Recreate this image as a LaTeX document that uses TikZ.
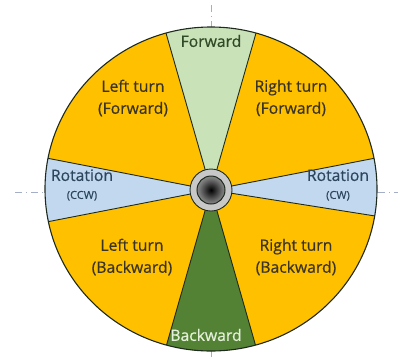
\documentclass[tikz,border=0pt]{standalone}
\usepackage{fontspec}
\setmainfont{Open Sans}[FakeBold=0.5]
\usetikzlibrary{positioning,shadings}
\definecolor{turnorange}{HTML}{FFC000}
\definecolor{fwdgreen}{HTML}{C9E2B8}
\definecolor{bwdgreen}{HTML}{548235}
\definecolor{rotblue}{HTML}{C2D8EE}
\definecolor{rimdark}{HTML}{1E2A1E}
\definecolor{hubgray}{HTML}{C8C8C8}
\definecolor{axisgray}{HTML}{A4AEC8}
\definecolor{turntext}{HTML}{3A3426}
\definecolor{fwdtext}{HTML}{2F4A26}
\definecolor{rottext}{HTML}{2C465E}
\definecolor{bwdtext}{HTML}{E4F0DA}
\newcommand{\rotsmall}{\fontsize{11}{13}\selectfont}
\pgfdeclareradialshading{hubshade}{\pgfpoint{0bp}{0bp}}{%
  color(0bp)=(black); color(20bp)=(black!55); color(45bp)=(black!12); color(50bp)=(black!10)}

\begin{document}
\begin{tikzpicture}[x=1pt, y=1pt,
  sector/.style={draw=rimdark, line width=0.9pt},
  rim/.style={draw=rimdark, line width=1.1pt},
  seglabel/.style={font=\fontsize{15.7}{22}\selectfont, align=center, text=turntext},
  crossline/.style={draw=axisgray, line width=0.6pt, dash pattern=on 7pt off 4pt on 1pt off 4pt},
]
  \useasboundingbox (-211,-170) rectangle (187,190);

  % crosshair ---------------------------------------------------------------
  \coordinate (ctop a) at (0,185);   \coordinate (ctop b) at (0,163);
  \coordinate (cbot a) at (0,-160);  \coordinate (cbot b) at (0,-170);
  \coordinate (cleft a) at (-196,-2); \coordinate (cleft b) at (-166,-2);
  \coordinate (cright a) at (167,-2); \coordinate (cright b) at (187,-2);
  \draw[crossline] (ctop a) -- (ctop b);
  \draw[crossline] (cbot a) -- (cbot b);
  \draw[crossline] (cleft a) -- (cleft b);
  \draw[crossline] (cright a) -- (cright b);

  % wheel sectors -----------------------------------------------------------
  \begin{scope}
    \clip (0,1) ellipse [x radius=166, y radius=162];
    \fill[turnorange] (-200,-200) rectangle (200,200);
    \fill[fwdgreen] (0,0) -- (74:250) -- (106:250) -- cycle;
    \fill[bwdgreen] (0,0) -- (254:250) -- (286:250) -- cycle;
    \fill[rotblue] (0,0) -- (-9:250) -- (11:250) -- cycle;
    \fill[rotblue] (0,0) -- (169:250) -- (191:250) -- cycle;
    \foreach \ang in {74,106,254,286,-9,11,169,191}
      \draw[sector] (0,0) -- (\ang:250);
  \end{scope}
  \draw[rim] (0,1) ellipse [x radius=166, y radius=162];

  % hub ---------------------------------------------------------------------
  \node[circle, draw=rimdark, line width=0.9pt, fill=hubgray,
        minimum size=42pt, inner sep=0pt] (hub) at (0,0) {};
  \shade[shading=hubshade] (hub.center) circle (14);
  \draw[rimdark, line width=1pt] (hub.center) circle (14);

  % labels ------------------------------------------------------------------
  \node[seglabel, text=fwdtext] (fwd) at (0,149) {Forward};
  \node[seglabel, text=bwdtext] (bwd) at (-5,-145) {Backward};
  \node[seglabel] (lfwd) at (-78,92) {Left turn\\(Forward)};
  \node[seglabel] (rfwd) at (80,92) {Right turn\\(Forward)};
  \node[seglabel] (lbwd) at (-79,-67) {Left turn\\(Backward)};
  \node[seglabel] (rbwd) at (85,-67) {Right turn\\(Backward)};
  \node[seglabel, text=rottext] (ccw) at (-129,5)
    {Rotation\\[-4pt]{\rotsmall (CCW)}};
  \node[seglabel, text=rottext] (cw) at (127,5)
    {Rotation\\[-4pt]{\rotsmall (CW)}};
\end{tikzpicture}
\end{document}
